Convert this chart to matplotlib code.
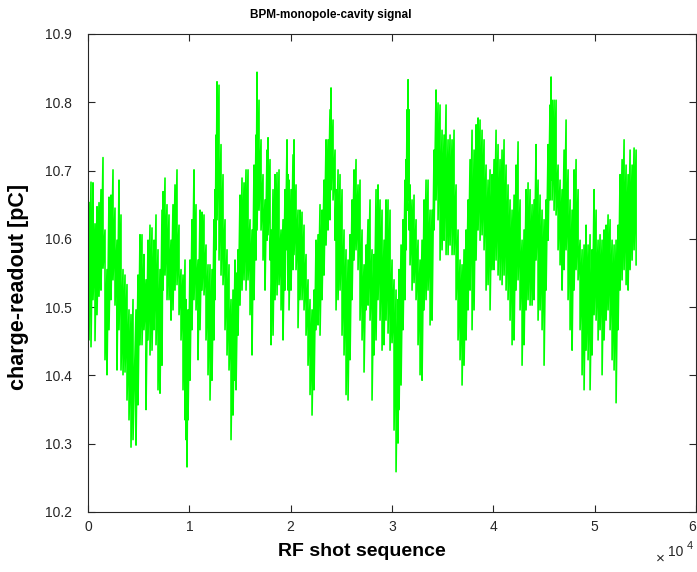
import numpy as np
import matplotlib
matplotlib.use("Agg")
import matplotlib.pyplot as plt

# shot index (~every 200 shots) and the local
# upper / lower extent of the charge trace in that stretch [pC]
shot = [
    99, 296, 494, 691, 888, 1086, 1283, 1481, 1678, 1875,
    2073, 2270, 2468, 2665, 2862, 3060, 3257, 3455, 3652, 3849,
    4047, 4244, 4442, 4738, 4935, 5132, 5330, 5527, 5725, 5922,
    6119, 6317, 6514, 6712, 6909, 7106, 7304, 7403, 7600, 7797,
    7995, 8192, 8390, 8587, 8784, 8982, 9179, 9377, 9574, 9673,
    9771, 9870, 10067, 10265, 10462, 10660, 10857, 11054, 11252, 11449,
    11647, 11844, 12041, 12239, 12436, 12535, 12634, 12732, 12930, 13127,
    13325, 13522, 13719, 13917, 14114, 14312, 14509, 14608, 14805, 15002,
    15200, 15397, 15595, 15792, 15989, 16187, 16384, 16582, 16680, 16878,
    17076, 17273, 17470, 17667, 17766, 17963, 18062, 18260, 18457, 18654,
    18852, 19049, 19247, 19444, 19641, 19740, 19839, 20036, 20234, 20332,
    20530, 20727, 20924, 21122, 21319, 21517, 21714, 21911, 22109, 22306,
    22504, 22701, 22898, 23096, 23293, 23491, 23688, 23885, 23984, 24182,
    24379, 24478, 24675, 24872, 25070, 25267, 25465, 25662, 25859, 26057,
    26254, 26452, 26649, 26846, 27044, 27241, 27439, 27636, 27833, 28031,
    28228, 28426, 28623, 28820, 29018, 29215, 29413, 29610, 29807, 30005,
    30202, 30400, 30597, 30696, 30893, 31091, 31288, 31387, 31485, 31584,
    31683, 31781, 31979, 32176, 32374, 32571, 32768, 32966, 33163, 33361,
    33558, 33755, 33953, 34150, 34348, 34545, 34742, 34940, 35137, 35335,
    35532, 35729, 35927, 36124, 36322, 36519, 36716, 36914, 37111, 37309,
    37506, 37703, 37901, 38098, 38296, 38493, 38690, 38888, 39085, 39283,
    39480, 39677, 39875, 40072, 40270, 40467, 40664, 40862, 41059, 41257,
    41454, 41651, 41849, 42046, 42244, 42441, 42638, 42836, 43033, 43231,
    43428, 43625, 43823, 44020, 44218, 44415, 44612, 44810, 45007, 45205,
    45402, 45599, 45698, 45797, 45994, 46192, 46389, 46586, 46784, 46981,
    47179, 47376, 47573, 47771, 47968, 48166, 48363, 48560, 48758, 48955,
    49153, 49350, 49547, 49745, 49942, 50140, 50337, 50534, 50732, 50929,
    51127, 51324, 51521, 51719, 51916, 52114, 52311, 52508, 52706, 52903,
    53101, 53298, 53495, 53693, 53890, 54088,
]

charge_top = [
    10.653, 10.683, 10.682, 10.622, 10.647, 10.653, 10.672, 10.719, 10.613, 10.555,
    10.661, 10.664, 10.701, 10.645, 10.598, 10.686, 10.635, 10.555, 10.547, 10.533,
    10.496, 10.489, 10.511, 10.496, 10.547, 10.606, 10.606, 10.577, 10.540, 10.598,
    10.620, 10.616, 10.598, 10.635, 10.584, 10.555, 10.642, 10.669, 10.689, 10.650,
    10.635, 10.598, 10.650, 10.679, 10.701, 10.620, 10.555, 10.547, 10.569, 10.511,
    10.481, 10.496, 10.569, 10.628, 10.701, 10.650, 10.569, 10.642, 10.639, 10.635,
    10.591, 10.562, 10.562, 10.555, 10.628, 10.672, 10.752, 10.830, 10.825, 10.738,
    10.694, 10.628, 10.584, 10.562, 10.511, 10.525, 10.569, 10.550, 10.584, 10.664,
    10.689, 10.682, 10.701, 10.701, 10.628, 10.613, 10.708, 10.752, 10.844, 10.803,
    10.745, 10.694, 10.657, 10.730, 10.748, 10.716, 10.613, 10.672, 10.694, 10.697,
    10.701, 10.613, 10.628, 10.672, 10.745, 10.694, 10.686, 10.672, 10.723, 10.745,
    10.679, 10.642, 10.642, 10.639, 10.620, 10.577, 10.540, 10.511, 10.496, 10.525,
    10.598, 10.606, 10.650, 10.642, 10.686, 10.745, 10.745, 10.789, 10.821, 10.774,
    10.730, 10.672, 10.701, 10.694, 10.672, 10.613, 10.584, 10.569, 10.606, 10.657,
    10.701, 10.716, 10.679, 10.686, 10.613, 10.562, 10.591, 10.628, 10.657, 10.584,
    10.577, 10.672, 10.679, 10.657, 10.642, 10.598, 10.657, 10.657, 10.642, 10.569,
    10.540, 10.525, 10.511, 10.555, 10.591, 10.628, 10.686, 10.716, 10.789, 10.833,
    10.789, 10.679, 10.657, 10.664, 10.628, 10.598, 10.569, 10.598, 10.657, 10.686,
    10.686, 10.642, 10.642, 10.730, 10.818, 10.799, 10.796, 10.759, 10.752, 10.796,
    10.745, 10.752, 10.745, 10.759, 10.679, 10.613, 10.569, 10.562, 10.584, 10.613,
    10.657, 10.716, 10.759, 10.730, 10.767, 10.777, 10.774, 10.759, 10.745, 10.708,
    10.686, 10.701, 10.694, 10.716, 10.759, 10.738, 10.716, 10.730, 10.745, 10.708,
    10.679, 10.657, 10.642, 10.664, 10.708, 10.742, 10.657, 10.598, 10.613, 10.672,
    10.682, 10.672, 10.650, 10.657, 10.738, 10.686, 10.664, 10.642, 10.628, 10.657,
    10.738, 10.796, 10.837, 10.803, 10.803, 10.803, 10.708, 10.686, 10.672, 10.730,
    10.774, 10.701, 10.657, 10.642, 10.701, 10.716, 10.672, 10.598, 10.584, 10.591,
    10.620, 10.591, 10.606, 10.584, 10.672, 10.642, 10.598, 10.606, 10.598, 10.613,
    10.620, 10.635, 10.628, 10.598, 10.591, 10.598, 10.620, 10.694, 10.716, 10.745,
    10.708, 10.694, 10.730, 10.708, 10.733, 10.730,
]

charge_bot = [
    10.452, 10.442, 10.511, 10.451, 10.489, 10.516, 10.525, 10.557, 10.423, 10.401,
    10.467, 10.511, 10.540, 10.503, 10.408, 10.467, 10.408, 10.401, 10.405, 10.364,
    10.335, 10.295, 10.306, 10.298, 10.357, 10.445, 10.445, 10.467, 10.350, 10.452,
    10.430, 10.437, 10.467, 10.445, 10.379, 10.374, 10.415, 10.525, 10.547, 10.511,
    10.511, 10.481, 10.496, 10.525, 10.533, 10.489, 10.452, 10.379, 10.335, 10.306,
    10.266, 10.335, 10.393, 10.467, 10.511, 10.496, 10.423, 10.467, 10.525, 10.518,
    10.452, 10.401, 10.364, 10.393, 10.452, 10.511, 10.584, 10.628, 10.569, 10.547,
    10.533, 10.467, 10.430, 10.408, 10.306, 10.342, 10.393, 10.379, 10.459, 10.503,
    10.525, 10.540, 10.525, 10.540, 10.489, 10.430, 10.511, 10.569, 10.613, 10.642,
    10.613, 10.569, 10.525, 10.598, 10.606, 10.569, 10.445, 10.459, 10.511, 10.518,
    10.533, 10.496, 10.452, 10.525, 10.584, 10.525, 10.496, 10.525, 10.555, 10.577,
    10.555, 10.470, 10.511, 10.511, 10.496, 10.459, 10.415, 10.372, 10.342, 10.379,
    10.467, 10.474, 10.459, 10.511, 10.547, 10.591, 10.613, 10.628, 10.672, 10.657,
    10.598, 10.496, 10.511, 10.525, 10.459, 10.430, 10.372, 10.364, 10.423, 10.511,
    10.569, 10.584, 10.555, 10.481, 10.452, 10.405, 10.496, 10.503, 10.481, 10.364,
    10.430, 10.452, 10.511, 10.481, 10.437, 10.445, 10.481, 10.462, 10.437, 10.448,
    10.320, 10.259, 10.301, 10.350, 10.386, 10.467, 10.511, 10.584, 10.642, 10.657,
    10.613, 10.562, 10.525, 10.536, 10.511, 10.445, 10.401, 10.393, 10.496, 10.511,
    10.525, 10.474, 10.481, 10.613, 10.657, 10.628, 10.569, 10.584, 10.598, 10.577,
    10.577, 10.591, 10.577, 10.577, 10.511, 10.452, 10.423, 10.386, 10.415, 10.452,
    10.496, 10.525, 10.467, 10.496, 10.569, 10.613, 10.598, 10.606, 10.584, 10.525,
    10.533, 10.496, 10.555, 10.555, 10.569, 10.547, 10.540, 10.533, 10.547, 10.525,
    10.511, 10.481, 10.445, 10.452, 10.525, 10.540, 10.496, 10.415, 10.445, 10.496,
    10.511, 10.503, 10.503, 10.511, 10.569, 10.481, 10.496, 10.467, 10.415, 10.525,
    10.598, 10.657, 10.686, 10.657, 10.642, 10.635, 10.584, 10.562, 10.525, 10.555,
    10.584, 10.511, 10.467, 10.437, 10.525, 10.555, 10.540, 10.467, 10.401, 10.379,
    10.437, 10.423, 10.379, 10.430, 10.489, 10.481, 10.452, 10.467, 10.401, 10.452,
    10.481, 10.496, 10.467, 10.423, 10.408, 10.360, 10.467, 10.525, 10.540, 10.555,
    10.533, 10.525, 10.555, 10.569, 10.584, 10.562,
]

x_ticks = [0, 10000, 20000, 30000, 40000, 50000, 60000]
x_tick_labels = ["0", "1", "2", "3", "4", "5", "6"]
y_ticks = [10.2, 10.3, 10.4, 10.5, 10.6, 10.7, 10.8, 10.9]

plt.rcParams["font.family"] = ["Liberation Sans", "DejaVu Sans"]

# trace goes up and down inside every stretch, like the dense raw signal
xs = np.repeat(np.asarray(shot, dtype=float), 2)
ys = np.column_stack([charge_top, charge_bot]).ravel()

fig = plt.figure(figsize=(6.97, 5.72), dpi=100)
ax = fig.add_axes([88 / 697, 60 / 572, 608 / 697, 478 / 572])

ax.plot(xs, ys, color="#00ff00", linewidth=1.2)

ax.set_xlim(0, 60000)
ax.set_ylim(10.2, 10.9)
ax.set_xticks(x_ticks)
ax.set_xticklabels(x_tick_labels)
ax.set_yticks(y_ticks)
ax.set_yticklabels([f"{v:.1f}" for v in y_ticks])

edge = "#262626"
for s in ax.spines.values():
    s.set_color(edge)
    s.set_linewidth(0.8)
ax.tick_params(direction="in", length=5, width=0.8, colors=edge,
               top=True, right=True, labelsize=10)
ax.tick_params(axis="x", pad=6)
ax.tick_params(axis="y", pad=11.5)
# last x label sits at the figure edge, keep it inside
ax.get_xticklabels()[-1].set_horizontalalignment("right")

ax.set_xlabel("RF shot sequence", fontsize=14, fontweight="bold")
ax.xaxis.set_label_coords(0.45, -0.065)
ax.set_ylabel("charge-readout [pC]", fontsize=15.5, fontweight="bold")
ax.yaxis.set_label_coords(-0.097, 0.47)

fig.text(0.474, 0.974, "BPM-monopole-cavity signal", fontsize=8.5,
         fontweight="bold", ha="center", va="center")

# MATLAB style exponent marker under the right end of the x axis
fig.text(0.947, 0.012, "\u00d7", fontsize=11, ha="center", va="bottom", color=edge)
fig.text(0.970, 0.022, "10", fontsize=10, ha="center", va="bottom", color=edge)
fig.text(0.990, 0.037, "4", fontsize=8, ha="center", va="bottom", color=edge)

fig.savefig("out.png", dpi=100, facecolor="white")
